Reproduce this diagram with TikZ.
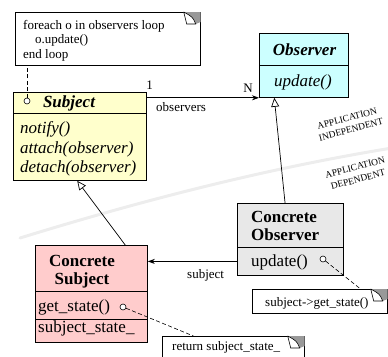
\documentclass[tikz,border=0pt]{standalone}
\usepackage{fontspec}
\setmainfont{Liberation Serif}
\usetikzlibrary{calc,arrows.meta}
\definecolor{subjfill}{HTML}{FFFFCC}
\definecolor{obsfill}{HTML}{CCFFFF}
\definecolor{csfill}{HTML}{FFCCCC}
\definecolor{cofill}{HTML}{E8E8E8}
\newcommand{\bigf}{\fontsize{17}{19}\selectfont}
\newcommand{\smallf}{\fontsize{13}{15}\selectfont}
\newcommand{\dogear}[1]{%
  \begin{scope}[shift={(#1.north east)}]
    \fill[gray!80] (-17,0) -- (0,0) -- (0,10) -- (-5,12) .. controls (-8,5) .. (-17,0);
    \filldraw[fill=white, line width=0.6pt] (-17,0) -- (-14,12) -- (-5,12) .. controls (-8,5) .. (-17,0);
  \end{scope}}
\begin{document}
\begin{tikzpicture}[x=1pt,y=-1pt,
  cls/.style={draw, line width=0.8pt, rectangle, inner sep=0pt, anchor=north west},
  notebox/.style={draw, line width=0.7pt, fill=white, rectangle, inner sep=0pt, anchor=north west},
  txt/.style={inner sep=0pt},
  rtxt/.style={inner sep=0pt, rotate=15, font=\fontsize{9.5}{10}\selectfont},
  port/.style={circle, draw, line width=0.6pt, fill=white, minimum size=6pt, inner sep=0pt},
  assoc/.style={line width=0.7pt, -{Stealth[length=7pt,width=5pt]}},
  inh/.style={line width=0.7pt, -{Triangle[open,length=9pt,width=8pt]}},
  dashline/.style={line width=0.6pt, dash pattern=on 4pt off 2.5pt}
]
\useasboundingbox (0,0) rectangle (388,356);

% divider
\draw[line width=3pt, gray!14, line cap=round] (20,238) .. controls (150,198) and (270,168) .. (392,148);
\node[rtxt] (indep1) at (347,118.5) {APPLICATION};
\node[rtxt] (indep2) at (351,129.5) {INDEPENDENT};
\node[rtxt] (dep1) at (355,167.5) {APPLICATION};
\node[rtxt] (dep2) at (358,179.5) {DEPENDENT};

% Note 1
\node[notebox, minimum width=185pt, minimum height=53pt] (n1) at (15,12) {};
\dogear{n1}
\node[txt, anchor=base west] (n1a) at (23,29) {\smallf foreach o in observers loop};
\node[txt, anchor=base west] (n1b) at (35,43.5) {\smallf o.update()};
\node[txt, anchor=base west] (n1c) at (23,58) {\smallf end loop};

% Subject
\node[cls, fill=subjfill, minimum width=133pt, minimum height=21pt] (subjH) at (13,92) {};
\node[cls, fill=subjfill, minimum width=133pt, minimum height=67pt] (subjM) at (13,113) {};
\node[txt] (subjT) at (69,103) {\bigf\bfseries\itshape Subject};
\node[port] (subjP) at (27,101) {};
\node[txt, anchor=base west] (sm1) at (20,133) {\bigf\itshape notify()};
\node[txt, anchor=base west] (sm2) at (20,153) {\bigf\itshape attach(observer)};
\node[txt, anchor=base west] (sm3) at (20,172) {\bigf\itshape detach(observer)};

% Observer
\node[cls, fill=obsfill, minimum width=89pt, minimum height=32pt] (obsH) at (259,33) {};
\node[cls, fill=obsfill, minimum width=89pt, minimum height=32pt] (obsM) at (259,65) {};
\node[txt] (obsT) at (304.5,50) {\bigf\bfseries\itshape Observer};
\node[txt] (obsU) at (303,82) {\bigf\itshape update()};

% Concrete Observer
\node[cls, fill=cofill, minimum width=106pt, minimum height=44pt] (coH) at (237,203) {};
\node[cls, fill=cofill, minimum width=106pt, minimum height=28pt] (coM) at (237,247) {};
\node[txt, anchor=base west] (coT1) at (251,222.5) {\bigf\bfseries Concrete};
\node[txt, anchor=base west] (coT2) at (251,240.5) {\bigf\bfseries Observer};
\node[txt, anchor=base west] (coU) at (251,266) {\bigf update()};
\node[port] (coP) at (323,259) {};

% Concrete Subject
\node[cls, fill=csfill, minimum width=112pt, minimum height=46pt] (csH) at (35,245) {};
\node[cls, fill=csfill, minimum width=112pt, minimum height=28pt] (csM1) at (35,291) {};
\node[cls, fill=csfill, minimum width=112pt, minimum height=23pt] (csM2) at (35,319) {};
\node[txt, anchor=base] (csT1) at (82,266.5) {\bigf\bfseries Concrete};
\node[txt, anchor=base] (csT2) at (82,284.5) {\bigf\bfseries Subject};
\node[txt, anchor=base west] (csG) at (38,311) {\bigf get\_state()};
\node[port] (csP) at (123,307) {};
\node[txt, anchor=base west] (csS) at (38,332) {\bigf subject\_state\_};

% Note 2
\node[notebox, minimum width=135pt, minimum height=24pt] (n2) at (252,289) {};
\dogear{n2}
\node[txt, anchor=base west] (n2t) at (265,306) {\smallf subject->get\_state()};

% Note 3
\node[notebox, minimum width=142pt, minimum height=30pt] (n3) at (162,336) {};
\dogear{n3}
\node[txt, anchor=base west] (n3t) at (172,350) {\smallf return subject\_state\_};

% connectors
\draw[assoc] (subjH.east |- obsM.south west) -- (obsM.south west);
\node[txt, anchor=base] (one) at (149.5,89.5) {\smallf 1};
\node[txt, anchor=base] (nn) at (248,92) {\smallf N};
\node[txt, anchor=base west] (obsl) at (156,111) {\smallf observers};

\draw[inh] ($(coH.north west)!0.45!(coH.north east)$) -- ($(obsM.south west)!0.17!(obsM.south east)$);
\draw[inh] ($(csH.north west)!0.8!(csH.north east)$) -- ($(subjM.south west)!0.48!(subjM.south east)$);

\draw[assoc] (coM.west) -- (coM.west -| csH.east);
\node[txt, anchor=base west] (subl) at (187,278) {\smallf subject};

\draw[dashline] (subjP) -- (subjP |- n1.south);
\draw[dashline] (coP) -- ($(n2.north west)!0.8!(n2.north east)$);
\draw[dashline] (csP) -- ($(n3.north west)!0.22!(n3.north east)$);
\end{tikzpicture}
\end{document}
